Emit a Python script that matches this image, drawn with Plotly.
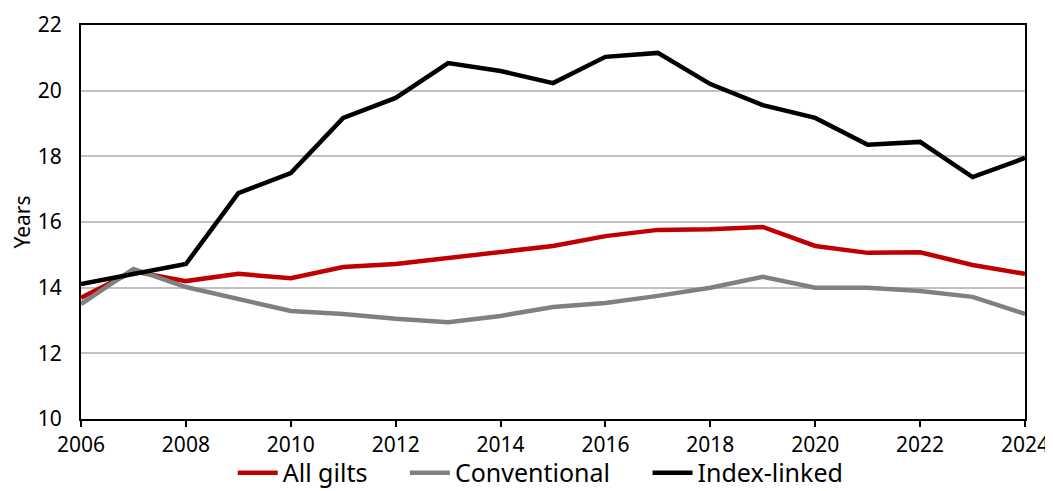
import plotly.graph_objects as go

years = list(range(2006, 2025))
all_gilts = [13.69, 14.5, 14.2, 14.42, 14.29, 14.63, 14.72, 14.9, 15.09, 15.27, 15.57, 15.76, 15.78, 15.85, 15.27, 15.06, 15.08, 14.69, 14.42]
conventional = [13.5, 14.57, 14.02, 13.66, 13.29, 13.2, 13.05, 12.95, 13.14, 13.41, 13.53, 13.75, 14.0, 14.33, 14.0, 14.0, 13.9, 13.72, 13.2]
index_linked = [14.11, 14.42, 14.72, 16.88, 17.49, 19.17, 19.78, 20.84, 20.6, 20.23, 21.03, 21.15, 20.2, 19.56, 19.17, 18.35, 18.44, 17.37, 17.95]

series = [("All gilts", all_gilts, "#C00000"),
          ("Conventional", conventional, "#808080"),
          ("Index-linked", index_linked, "#000000")]

pad = "\u00a0" * 5
fig = go.Figure()
for i, (name, vals, col) in enumerate(series):
    label = name + (pad if i < len(series) - 1 else "")
    fig.add_trace(go.Scatter(x=years, y=vals, name=label, mode="lines",
                             line=dict(color=col, width=4.5)))

font = "Noto Sans, sans-serif"
fig.update_layout(
    width=1045, height=483,
    margin=dict(l=73, r=28, t=17, b=72, autoexpand=False),
    paper_bgcolor="white", plot_bgcolor="white",
    font=dict(family=font, color="#000000", size=21),
    showlegend=True,
    legend=dict(orientation="h", x=0.487, xanchor="center", y=-0.137, yanchor="middle",
                font=dict(size=25), itemwidth=40, tracegroupgap=0,
                bgcolor="rgba(0,0,0,0)"),
    xaxis=dict(range=[2006, 2024], tickvals=list(range(2006, 2025, 2)),
               showgrid=False, showline=True, linecolor="black", linewidth=2,
               mirror=True, ticks="outside", ticklen=6, tickwidth=2, tickcolor="black",
               tickfont=dict(size=21), zeroline=False, automargin=False),
    yaxis=dict(range=[10, 22], tickvals=list(range(10, 23, 2)),
               showgrid=True, gridcolor="#C0C0C0", gridwidth=2,
               showline=True, linecolor="black", linewidth=2, mirror=True,
               ticks="", tickfont=dict(size=21), zeroline=False, automargin=False,
               ticklabelstandoff=13,
               title=dict(text="Years", font=dict(size=21), standoff=8)),
)
fig.write_html("out.html")
